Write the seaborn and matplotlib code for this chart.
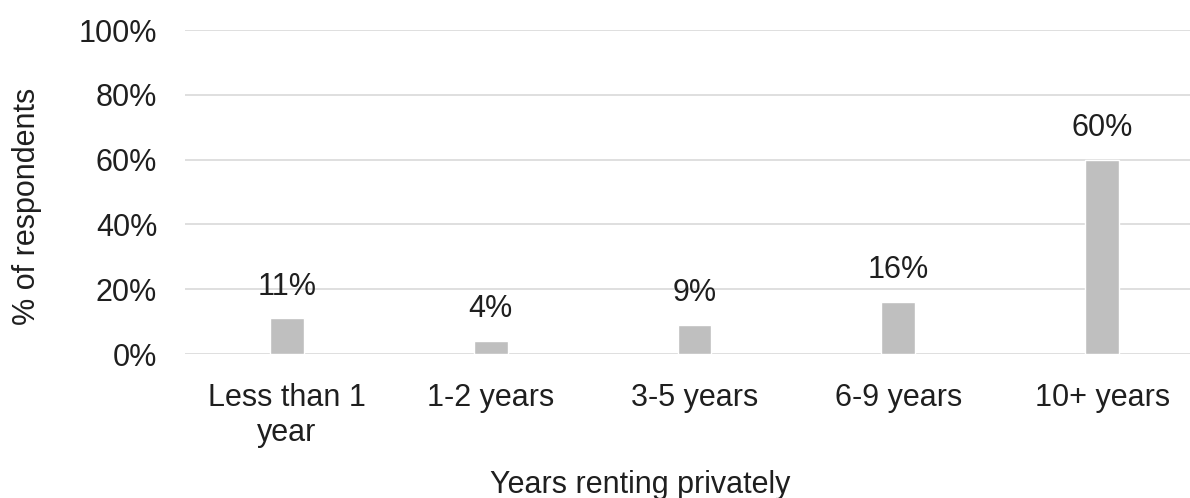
import matplotlib
matplotlib.use("Agg")
import matplotlib.pyplot as plt
import seaborn as sns
import pandas as pd

# Survey data: how long respondents have been renting privately
categories = ["Less than 1\nyear", "1-2 years", "3-5 years", "6-9 years", "10+ years"]
percentages = [11, 4, 9, 16, 60]
y_ticks = [0, 20, 40, 60, 80, 100]
y_tick_labels = ["0%", "20%", "40%", "60%", "80%", "100%"]

sns.set_theme(style="white")
plt.rcParams["font.family"] = ["Liberation Sans", "DejaVu Sans"]

text_color = "#1f1f1f"
bar_color = "#bfbfbf"
grid_color = "#d9d9d9"

df = pd.DataFrame({"category": categories, "pct": percentages})

W, H = 1190, 498
fig = plt.figure(figsize=(W / 100, H / 100), dpi=100)
ax = fig.add_axes([185 / W, 1 - 354 / H, 1019 / W, 324 / H])

sns.barplot(data=df, x="category", y="pct", color=bar_color, width=0.165,
            saturation=1, ax=ax, zorder=3)

ax.set_ylim(0, 100)
ax.set_xlim(-0.5, len(categories) - 0.5)
ax.set_yticks(y_ticks)
ax.set_yticklabels(y_tick_labels)
ax.yaxis.grid(True, color=grid_color, linewidth=1.2, zorder=0)
ax.set_axisbelow(True)
for s in ax.spines.values():
    s.set_visible(False)

ax.tick_params(axis="both", length=0, labelsize=22, colors=text_color)
ax.tick_params(axis="y", pad=20)
ax.tick_params(axis="x", pad=21)

for i, v in enumerate(percentages):
    ax.annotate(f"{v}%", xy=(i, v), xytext=(0, 12), textcoords="offset points",
                ha="center", va="bottom", fontsize=22, color=text_color)

ax.set_xlabel("Years renting privately", fontsize=22, color=text_color)
ax.set_ylabel("% of respondents", fontsize=22, color=text_color)
ax.xaxis.set_label_coords(0.4465, -0.358)
ax.yaxis.set_label_coords(-0.140, 0.457)

fig.savefig("out.png", dpi=100, facecolor="white")
